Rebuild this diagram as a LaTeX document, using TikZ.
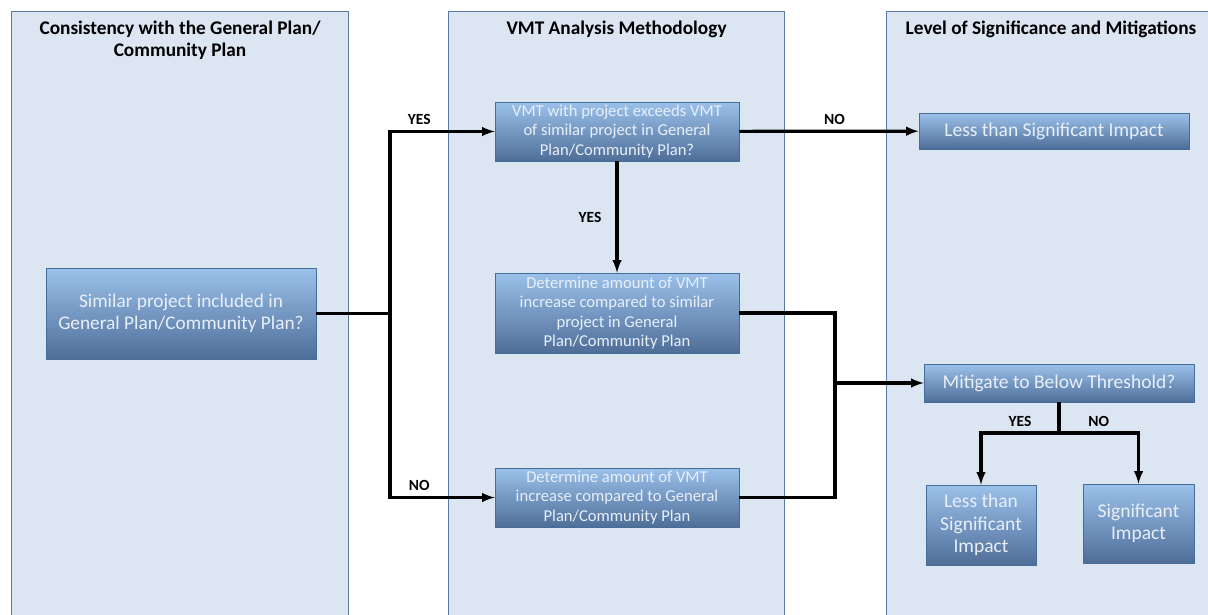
\documentclass[tikz,border=0pt]{standalone}
\usepackage{fontspec}
\setmainfont{Carlito}
\usepackage{tikz}
\usetikzlibrary{shapes,arrows,positioning,fit,backgrounds}
\definecolor{lanefill}{RGB}{220, 230, 242}
\definecolor{laneline}{RGB}{90, 122, 162}
\definecolor{boxtop}{RGB}{155, 193, 235}
\definecolor{boxbot}{RGB}{78, 110, 152}
\definecolor{boxline}{RGB}{70, 108, 152}
\definecolor{boxtext}{RGB}{232, 239, 248}
\tikzstyle{lane} = [rectangle, draw=laneline, line width=1.1pt, fill=lanefill, anchor=north west, inner sep=0pt]
\tikzstyle{title} = [draw=none, fill=none, align=center, inner sep=0pt, font=\bfseries\fontsize{19.3}{22}\selectfont]
\tikzstyle{proc} = [rectangle, draw=boxline, line width=0.8pt, top color=boxtop, bottom color=boxbot, text=boxtext, align=center, inner sep=0pt]
\tikzstyle{lbl} = [draw=none, fill=none, text=black, inner sep=5pt, font=\bfseries\fontsize{15.5}{17}\selectfont]
\tikzstyle{tline} = [draw, line width=3.2pt, black]
\tikzstyle{tedge} = [draw, line width=3.2pt, black, >=latex, ->]

\begin{document}
\begin{tikzpicture}[x=1pt, y=-1pt]

\useasboundingbox (0,0) rectangle (1208,614);
\fill[white] (0,0) rectangle (1208,614);

% lanes =============================
\node[lane, minimum width=337pt, minimum height=609pt] (lane1) at (11,11) {};
\node[lane, minimum width=336pt, minimum height=609pt] (lane2) at (448,11) {};
\node[lane, minimum width=329pt, minimum height=609pt] (lane3) at (886,11) {};
\node[title, below=10pt of lane1.north] (t1) {Consistency with the General Plan/\\Community Plan};
\node[title, below=10pt of lane2.north] (t2) {VMT Analysis Methodology};
\node[title, below=10pt of lane3.north] (t3) {Level of Significance and Mitigations};

% operations =============================
\node[proc, minimum width=270pt, minimum height=91pt, font=\fontsize{19.3}{22}\selectfont] (similar) at (181,313.5) {Similar project included in\\General Plan/Community Plan?};
\node[proc, minimum width=244pt, minimum height=59pt, font=\fontsize{16.6}{19.5}\selectfont] (exceeds) at (617,131.5) {VMT with project exceeds VMT\\of similar project in General\\Plan/Community Plan?};
\node[proc, minimum width=244pt, minimum height=80pt, font=\fontsize{16.6}{19.5}\selectfont] (incsim) at (617,313) {Determine amount of VMT\\increase compared to similar\\project in General\\Plan/Community Plan};
\node[proc, minimum width=244pt, minimum height=59pt, font=\fontsize{16.6}{19.5}\selectfont] (incgen) at (617,497.5) {Determine amount of VMT\\increase compared to General\\Plan/Community Plan};
\node[proc, minimum width=270pt, minimum height=36pt, font=\fontsize{19.5}{22}\selectfont] (lessA) at (1054,131) {Less than Significant Impact};
\node[proc, minimum width=270pt, minimum height=38pt, font=\fontsize{19.5}{22}\selectfont] (mitig) at (1059,383) {Mitigate to Below Threshold?};
\node[proc, minimum width=110pt, minimum height=80pt, font=\fontsize{19.5}{22.5}\selectfont] (lessB) at (981,525) {Less than\\Significant\\Impact};
\node[proc, minimum width=111pt, minimum height=79pt, font=\fontsize{19.5}{22.5}\selectfont] (signif) at (1138.5,523.5) {Significant\\Impact};

% junctions
\coordinate (ja) at (390,313.5);
\coordinate (jm) at (835,383);
\coordinate (jf) at (1059,433);

% edges
\path[tline] (similar.east) -- (ja);
\path[tedge] (ja) |- node[lbl, above, pos=0.64] {YES} (exceeds);
\path[tedge] (ja) |- node[lbl, above, pos=0.64] {NO} (incgen);
\path[tedge] (exceeds) -- node[lbl, left=9pt] {YES} (incsim);
\path[tedge] (exceeds) -- node[lbl, above, pos=0.53] {NO} (lessA);
\path[tline] (incsim.east) -| (jm);
\path[tline] (incgen.east) -| (jm);
\path[tedge] (jm) -- (mitig);
\path[tline] (mitig.south) -- (jf);
\path[tedge] (jf) -| node[lbl, above, pos=0.25] {YES} (lessB);
\path[tedge] (jf) -| node[lbl, above, pos=0.25] {NO} (signif);

\end{tikzpicture}
\end{document}
